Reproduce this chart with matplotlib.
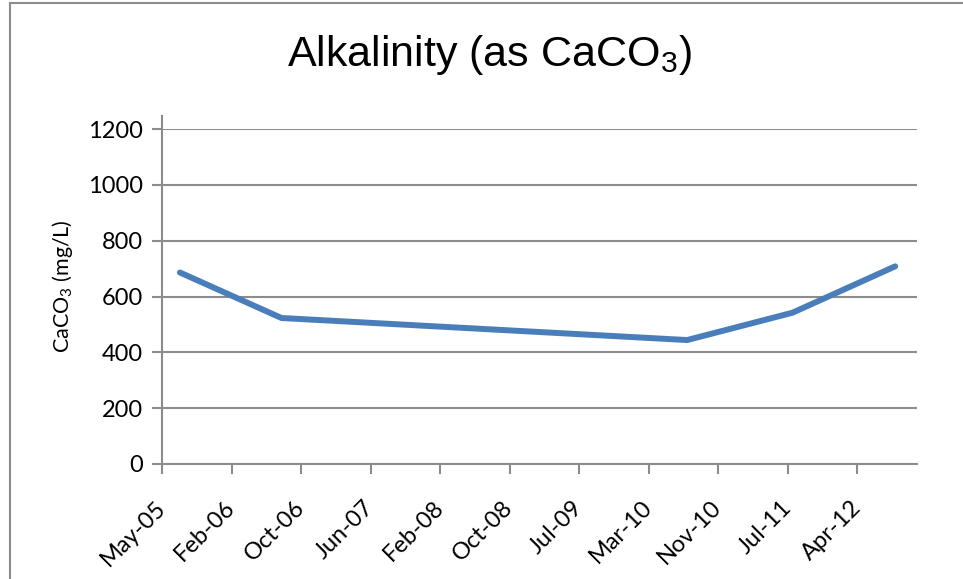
import numpy as np
import matplotlib
matplotlib.use("Agg")
import matplotlib.pyplot as plt
import matplotlib.dates as mdates
import matplotlib.transforms as mtransforms
from matplotlib.patches import Rectangle

# sample dates and alkalinity values (mg/L as CaCO3)
sample_dates = np.array(['2005-08-01', '2006-08-04', '2010-08-13', '2011-08-30', '2012-09-05'], dtype='datetime64[D]')
alkalinity = [686, 523, 444, 542, 708]

tick_labels = ['May-05', 'Feb-06', 'Oct-06', 'Jun-07', 'Feb-08', 'Oct-08',
               'Jul-09', 'Mar-10', 'Nov-10', 'Jul-11', 'Apr-12']
axis_start = np.datetime64('2005-05-28')
axis_end = np.datetime64('2012-11-22')
tick_step_days = 252

plt.rcParams['font.family'] = ['Lato', 'DejaVu Sans']
plt.rcParams['mathtext.fontset'] = 'custom'
plt.rcParams['mathtext.rm'] = 'Lato'
plt.rcParams['mathtext.default'] = 'regular'

fig = plt.figure(figsize=(9.63, 5.79), dpi=100)
ax = fig.add_axes([162 / 963, 1 - 464 / 579, (916.7 - 162) / 963, (464 - 129) / 579])

# chart area border (Excel style)
fig.patches.append(Rectangle((10 / 963, -0.1), 1.2, 1 - 3 / 579 + 0.1, transform=fig.transFigure,
                             fill=False, edgecolor='#8c8c8c', linewidth=1.5))

x = mdates.date2num(sample_dates.astype('datetime64[s]').astype(object))
ax.plot(x, alkalinity, color='#4a7ebb', linewidth=4.3, solid_capstyle='round', solid_joinstyle='round', zorder=3)

x0 = mdates.date2num(axis_start.astype('datetime64[s]').astype(object))
x1 = mdates.date2num(axis_end.astype('datetime64[s]').astype(object))
ax.set_xlim(x0, x1)
ax.set_ylim(0, 1200)
ax.set_yticks(np.arange(0, 1201, 200))

ticks = [x0 + k * tick_step_days for k in range(len(tick_labels))]
ax.set_xticks(ticks)
ax.set_xticklabels(tick_labels, rotation=45, ha='right', va='center', rotation_mode='anchor')
offset = mtransforms.ScaledTranslation(5 / 100, 0, fig.dpi_scale_trans)
for lbl in ax.get_xticklabels():
    lbl.set_transform(lbl.get_transform() + offset)

ax.grid(axis='y', color='#8c8c8c', linewidth=1.5)
ax.set_axisbelow(True)
for s in ['top', 'right']:
    ax.spines[s].set_visible(False)
for s in ['left', 'bottom']:
    ax.spines[s].set_color('#8c8c8c')
    ax.spines[s].set_linewidth(1.5)
ax.spines['left'].set_bounds(0, 1245)
ax.tick_params(axis='y', direction='out', length=7, width=1.5, color='#8c8c8c', labelsize=17, pad=7)
ax.tick_params(axis='x', direction='out', length=7, width=1.5, color='#8c8c8c', labelsize=17, pad=22)

ax.set_ylabel('CaCO$_3$ (mg/L)', fontsize=15.5, labelpad=10)
ax.yaxis.set_label_coords(-0.115, 0.53)

fig.text(489 / 963, 1 - 55 / 579, 'Alkalinity (as CaCO$_3$)', ha='center', va='center', fontsize=31,
         family=['Liberation Sans', 'DejaVu Sans'])

fig.savefig('out.png', dpi=100)
